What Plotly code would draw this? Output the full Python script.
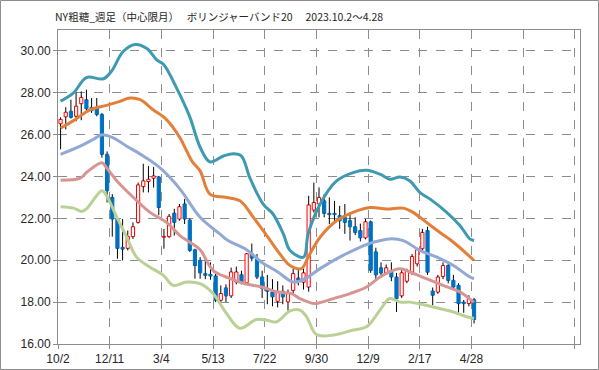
import plotly.graph_objects as go

# ---- data ----
tick_labels = ["10/2", "12/11", "3/4", "5/13", "7/22", "9/30", "12/9", "2/17", "4/28", "", ""]

opens = [26.52, 26.85, 27.12, 26.88, 27.48, 27.67, 27.30, 27.31, 26.96, 25.06,
         23.00, 21.97, 20.62, 20.57, 21.13, 21.81, 23.52, 23.76, 23.92, 23.98,
         21.10, 21.13, 22.25, 21.97, 22.69, 21.92, 20.50, 20.00, 19.36, 19.33,
         19.25, 18.09, 18.68, 18.30, 18.96, 19.31, 18.93, 20.31, 20.07, 19.20,
         18.65, 18.49, 18.04, 18.52, 18.01, 18.56, 19.15, 18.95, 18.72, 22.40,
         22.69, 22.84, 22.24, 22.24, 22.13, 22.05, 21.89, 21.60, 21.42, 21.07,
         21.84, 20.40, 19.64, 19.40, 19.50, 19.20, 18.30, 19.00, 19.43, 19.83,
         20.55, 21.42, 18.53, 18.48, 19.23, 19.75, 19.04, 18.80, 18.00, 17.93,
         18.12]
highs = [26.83, 27.31, 27.67, 28.02, 28.07, 28.15, 27.75, 27.75, 27.04, 25.20,
         23.16, 22.05, 21.97, 21.42, 21.81, 23.71, 24.61, 24.50, 24.46, 24.03,
         21.50, 22.21, 22.46, 22.69, 22.93, 22.00, 20.55, 20.15, 20.10, 19.90,
         19.36, 18.80, 18.85, 19.65, 19.70, 19.50, 20.35, 20.80, 20.30, 19.50,
         19.30, 19.10, 19.00, 18.80, 18.60, 19.60, 19.60, 19.60, 23.08, 23.71,
         23.48, 23.16, 23.00, 22.84, 22.60, 22.69, 22.30, 22.05, 21.75, 21.97,
         21.90, 20.60, 19.90, 19.80, 19.90, 19.40, 19.60, 19.60, 20.30, 20.60,
         21.50, 21.60, 18.70, 19.30, 19.90, 19.90, 19.30, 18.90, 18.10, 18.33,
         18.20]
lows = [25.30, 26.25, 26.77, 26.64, 26.69, 27.04, 27.04, 26.88, 24.90, 22.76,
        21.13, 20.07, 19.99, 20.47, 21.02, 21.75, 23.24, 23.24, 23.47, 22.15,
        20.55, 21.07, 21.18, 21.89, 21.73, 20.40, 19.12, 19.12, 19.10, 19.07,
        18.00, 18.00, 18.00, 18.20, 18.85, 18.85, 18.90, 19.95, 19.10, 18.20,
        17.90, 17.80, 17.75, 17.90, 17.60, 18.40, 18.80, 18.60, 18.50, 22.28,
        22.05, 22.05, 21.73, 21.81, 21.50, 21.26, 20.94, 21.20, 20.90, 21.00,
        19.40, 19.10, 19.20, 19.30, 19.00, 17.53, 18.20, 18.90, 19.30, 19.70,
        20.40, 19.30, 17.85, 18.40, 19.10, 18.90, 18.60, 17.46, 17.49, 17.80,
        16.98]
closes = [26.73, 27.07, 26.83, 27.36, 27.78, 27.24, 27.15, 26.96, 25.06, 23.32,
          21.97, 20.57, 20.53, 21.13, 21.60, 23.60, 23.79, 23.87, 24.03, 22.52,
          21.14, 22.10, 21.81, 22.56, 21.97, 20.47, 19.75, 19.40, 19.28, 19.25,
          18.09, 18.41, 18.30, 19.44, 19.44, 18.96, 20.31, 20.10, 19.20, 18.65,
          18.52, 18.25, 18.49, 18.25, 18.41, 19.36, 19.04, 19.40, 22.64, 22.76,
          23.00, 22.24, 22.18, 22.18, 21.89, 21.81, 21.60, 21.33, 21.07, 21.84,
          19.52, 19.30, 19.39, 19.64, 19.20, 18.17, 19.40, 19.50, 20.18, 20.50,
          21.33, 19.43, 18.33, 19.20, 19.75, 19.04, 18.72, 17.93, 17.93, 18.17,
          17.17]

# Bollinger bands (candle index, value)
up2_x = [0, 2.5, 5, 8.3, 9.9, 12.1, 14.4, 16.7, 18.6, 19.9, 22.5, 25, 27, 28.9, 31.5, 33.4, 35, 36.6,
         39.2, 41.1, 43.1, 44.4, 47, 47.9, 50.2, 53.4, 56.6, 59.2, 61.8, 63.7, 65.7, 67.6, 69.5, 71.5,
         74.7, 77.3, 79.2, 80]
up2_y = [27.6, 28.0, 28.73, 28.67, 29.05, 29.97, 30.31, 30.12, 29.57, 29.36, 28.2, 26.85, 25.4, 24.7,
         24.98, 25.09, 24.98, 23.95, 22.68, 22.21, 21.26, 20.47, 20.15, 21.26, 22.68, 23.79, 24.19,
         24.3, 24.11, 23.87, 23.98, 23.79, 23.24, 22.92, 22.29, 21.65, 21.02, 20.94]
up1_x = [0, 2.5, 5.7, 8.9, 11.5, 13.4, 15.4, 17.9, 20.5, 23.1, 24.4, 25.5, 27, 28.9, 32.1, 34.7, 37.3,
         39.9, 42.4, 44.4, 46.6, 47.9, 50.2, 53.4, 56.6, 59.9, 63.1, 66.3, 68.2, 70.8, 73.4, 76,
         78.6, 80]
up1_y = [26.32, 26.67, 27.19, 27.4, 27.59, 27.75, 27.67, 27.19, 26.72, 25.85, 25.22, 24.7, 24.27,
         23.16, 23.0, 22.84, 22.05, 21.18, 20.31, 19.75, 19.6, 20.15, 21.1, 21.89, 22.29, 22.52,
         22.45, 22.49, 22.29, 21.81, 21.33, 20.86, 20.31, 19.99]
ma_x = [0, 3.8, 6.3, 8, 10.2, 12.8, 16, 19.2, 23.1, 27, 30.8, 32.4, 35.7, 38.9, 42.1, 45, 47.3,
        50.2, 54, 57.9, 60.5, 63.7, 66.3, 69.5, 72.8, 76, 79.2, 80]
ma_y = [25.06, 25.45, 25.77, 26.0, 25.85, 25.45, 24.98, 24.42, 23.4, 22.05, 21.26, 20.94, 20.55,
        19.91, 19.43, 18.96, 19.12, 19.6, 20.15, 20.62, 20.86, 21.02, 20.94, 20.47, 20.15, 19.75,
        19.2, 19.12]
dn1_x = [0, 3.8, 5, 8, 8.9, 10.9, 14.1, 17.3, 20.5, 23.1, 25, 27, 29.5, 32.6, 35.7, 38.9, 42.1,
         44.7, 46.3, 47.9, 49.2, 50.5, 52.8, 56, 59.2, 61.8, 64.4, 65.7, 67.6, 70.8, 74, 77.3,
         79.5, 80]
dn1_y = [23.82, 23.92, 24.19, 24.66, 24.42, 23.79, 23.0, 22.29, 21.81, 21.18, 20.86, 20.5, 19.52,
         19.15, 18.88, 18.72, 18.48, 18.41, 18.17, 18.01, 17.93, 18.0, 18.17, 18.41, 18.72, 19.2,
         19.52, 19.6, 19.44, 19.12, 18.8, 18.48, 18.09, 18.0]
dn2_x = [0, 2.5, 4.1, 5, 6.7, 8, 8.9, 10.9, 12.8, 14.7, 17.3, 19.9, 21.8, 24.4, 27, 29.5, 32.1,
         34.7, 37.9, 39.9, 41.8, 44.4, 46.3, 47.6, 49.5, 52.8, 56.6, 59.2, 61.8, 63.7, 65.7, 67.6,
         72.1, 76, 78.6, 80]
dn2_y = [22.56, 22.49, 22.33, 22.45, 23.0, 23.32, 23.08, 22.05, 21.1, 20.15, 19.67, 19.28, 18.8,
         18.96, 18.88, 18.41, 17.46, 16.75, 17.17, 17.14, 17.06, 17.58, 17.62, 17.3, 16.45, 16.43,
         16.67, 16.82, 17.62, 18.17, 18.0, 18.0, 17.77, 17.53, 17.3, 17.22]

# ---- figure ----
idx = list(range(len(opens)))
is_up = [c >= o for o, c in zip(opens, closes)]
body_lo = [min(o, c) for o, c in zip(opens, closes)]
body_h = [max(abs(c - o), 0.03) for o, c in zip(opens, closes)]

fig = go.Figure()

fig.add_trace(go.Bar(
    x=idx, y=body_h, base=body_lo, width=0.62,
    marker=dict(color=["#FFFFFF" if u else "#0070C0" for u in is_up],
                line=dict(color=["#FF0000" if u else "#0070C0" for u in is_up], width=1)),
    hoverinfo="skip", showlegend=False))

wx, wy = [], []
for i in idx:
    top = body_lo[i] + body_h[i]
    wx += [i, i, None, i, i, None]
    wy += [lows[i], body_lo[i], None, top, highs[i], None]
fig.add_trace(go.Scatter(x=wx, y=wy, mode="lines", line=dict(color="#000000", width=1),
                         hoverinfo="skip", showlegend=False))

bands = [
    (dn2_x, dn2_y, "#B9D194"),
    (dn1_x, dn1_y, "#D69592"),
    (ma_x, ma_y, "#92A9D3"),
    (up1_x, up1_y, "#E2803A"),
    (up2_x, up2_y, "#3E9AB0"),
]
for bx, by, col in bands:
    fig.add_trace(go.Scatter(x=bx, y=by, mode="lines",
                             line=dict(color=col, width=3, shape="spline", smoothing=1.0),
                             hoverinfo="skip", showlegend=False))

axis_common = dict(showgrid=True, gridcolor="#8C8C8C", griddash="dash", gridwidth=1,
                   showline=True, linecolor="#8C8C8C", linewidth=1, mirror=True,
                   ticks="outside", ticklen=4, tickcolor="#8C8C8C", zeroline=False,
                   automargin=False,
                   tickfont=dict(family="Liberation Sans, Arial, sans-serif", size=12, color="#262626"))

fig.update_layout(
    width=599, height=370,
    margin=dict(l=58, r=19, t=30, b=26),
    paper_bgcolor="white", plot_bgcolor="white",
    bargap=0,
    hovermode=False,
    title=dict(text="NY粗糖_週足（中心限月）　 ボリンジャーバンド20　 2023.10.2～4.28",
               x=55 / 599, xanchor="left", y=1 - 17 / 370, yanchor="middle", automargin=False,
               font=dict(family="Noto Sans CJK JP", size=10.5, color="#262626")),
    xaxis=dict(range=[-0.5, 100.5], tickmode="array",
               tickvals=[-0.5 + 10 * k for k in range(len(tick_labels))],
               ticktext=tick_labels, **axis_common),
    yaxis=dict(range=[16, 31], tickmode="linear", tick0=16, dtick=2, tickformat=".2f",
               **axis_common),
    shapes=[dict(type="rect", xref="paper", yref="paper",
                 x0=(0.5 - 58) / 522, x1=(598.5 - 58) / 522,
                 y0=(344 - 369.5) / 314, y1=(344 - 0.5) / 314,
                 line=dict(color="#8C8C8C", width=1), fillcolor="rgba(0,0,0,0)", layer="below")],
)

fig.write_html("out.html", config={"displayModeBar": False, "staticPlot": True},
               post_script="document.body.style.margin='0';document.body.style.overflow='hidden';")
